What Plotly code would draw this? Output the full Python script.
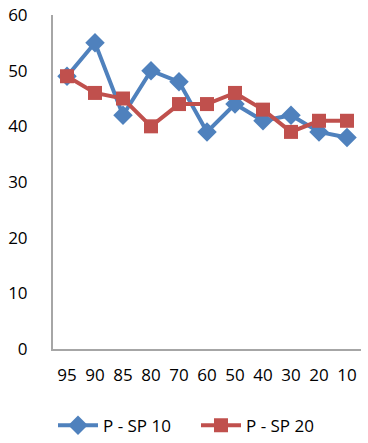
import plotly.graph_objects as go

# ── Data ──────────────────────────────────────────────────────────────────────
categories = ["95", "90", "85", "80", "70", "60", "50", "40", "30", "20", "10"]
sp10 = [49, 55, 42, 50, 48, 39, 44, 41, 42, 39, 38]
sp20 = [49, 46, 45, 40, 44, 44, 46, 43, 39, 41, 41]

BLUE = "#4F81BD"
RED = "#C0504D"
FONT = "Open Sans"

fig = go.Figure()

fig.add_trace(go.Scatter(
    x=categories, y=sp10, mode="lines+markers", name="P - SP 10",
    line=dict(color=BLUE, width=4),
    marker=dict(symbol="diamond", size=15, color=BLUE),
))
fig.add_trace(go.Scatter(
    x=categories, y=sp20, mode="lines+markers", name="P - SP 20",
    line=dict(color=RED, width=4),
    marker=dict(symbol="square", size=14, color=RED),
))

fig.update_layout(
    width=368, height=443,
    margin=dict(l=53, r=7, t=15, b=94, autoexpand=False),
    plot_bgcolor="white", paper_bgcolor="white",
    font=dict(family=FONT, size=17, color="black"),
    showlegend=True,
    legend=dict(
        orientation="h", x=0.0, xanchor="left", y=-0.23, yanchor="middle",
        font=dict(size=17), itemwidth=40, tracegroupgap=0,
        entrywidth=88, entrywidthmode="pixels",
    ),
)

# category axis: one slot per label, no extra padding for markers
fig.update_xaxes(
    type="category", range=[-0.5, len(categories) - 0.5],
    showgrid=False, zeroline=False,
    showline=True, linecolor="#A6A6A6", linewidth=2,
    ticks="outside", ticklen=10, tickcolor="rgba(0,0,0,0)",
)
fig.update_yaxes(
    range=[0, 60], dtick=10, showgrid=False, zeroline=False,
    showline=True, linecolor="#A6A6A6", linewidth=2,
    ticks="outside", ticklen=20, tickcolor="rgba(0,0,0,0)",
)

# drop the default page margin so the figure sits at the window's corner
fig.write_html("out.html", config={"displayModeBar": False},
               post_script="document.body.style.margin='0';")
